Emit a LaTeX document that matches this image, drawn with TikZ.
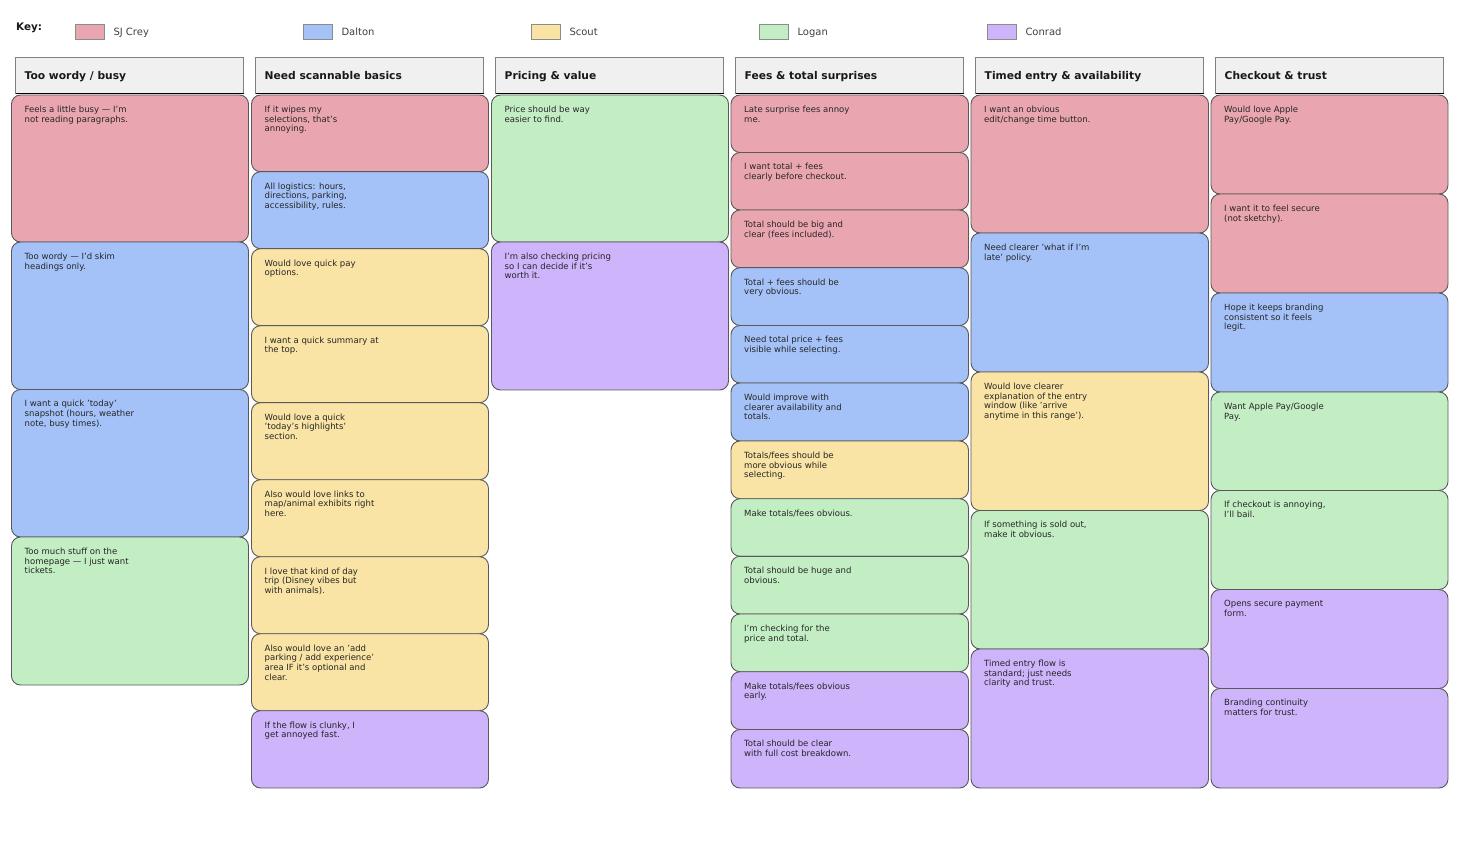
\documentclass[tikz,border=0pt]{standalone}
\usepackage{fontspec}
\setmainfont{DejaVu Sans}
\definecolor{cpink}{HTML}{EAA6B0}
\definecolor{cblue}{HTML}{A4C2F8}
\definecolor{cyel}{HTML}{F9E4A5}
\definecolor{cgrn}{HTML}{C3EEC4}
\definecolor{cpur}{HTML}{CDB4FB}
\definecolor{chead}{HTML}{F0F0F0}
\tikzset{
  cardbox/.style={draw=black!65,line width=0.9pt,rounded corners=9pt},
  cardtext/.style={anchor=north west,inner sep=0pt,align=left,text=black!85,font=\fontsize{8.53}{9.7}\selectfont},
  headbox/.style={draw=black!50,line width=1pt,fill=chead},
  headtext/.style={anchor=base west,inner sep=0pt,text=black!90,font=\fontsize{10.7}{13}\selectfont\bfseries},
  keybox/.style={draw=black!45,line width=1pt},
  keytext/.style={anchor=base west,inner sep=0pt,text=black!75,font=\fontsize{10}{11}\selectfont}
}
% name, x0, y0, x1, y1, colour, text
\newcommand{\cardat}[7]{%
  \path[cardbox,fill=#6] (#2,#3) rectangle (#4,#5);
  \node[cardtext] (#1) at (#2+13,#3+10.7) {#7};
}
\newcommand{\headat}[3]{%
  \path[headbox] (#2,57.5) rectangle (#2+228,94);
  \draw[black,line width=1pt] (#2,94) -- (#2+228,94);
  \node[headtext] (#1) at (#2+9,79.8) {#3};
}
\newcommand{\keyat}[4]{%
  \path[keybox,fill=#3] (#2,24.5) rectangle (#2+29,39.5);
  \node[keytext] (#1) at (#2+38.3,35.5) {#4};
}
\begin{document}
\begin{tikzpicture}[x=1pt,y=-1pt]
\useasboundingbox (0,0) rectangle (1468,842);
\node[anchor=base west,inner sep=0pt,text=black!90,font=\fontsize{10.4}{12}\selectfont\bfseries] (keylabel) at (16,31) {Key:};
\keyat{ka}{75}{cpink}{SJ Crey}
\keyat{kb}{303}{cblue}{Dalton}
\keyat{kc}{531}{cyel}{Scout}
\keyat{kd}{759}{cgrn}{Logan}
\keyat{ke}{987}{cpur}{Conrad}
\headat{ha}{15.5}{Too wordy / busy}
\headat{hb}{255.5}{Need scannable basics}
\headat{hc}{495.5}{Pricing \& value}
\headat{hd}{735.5}{Fees \& total surprises}
\headat{he}{975.5}{Timed entry \& availability}
\headat{hf}{1215.5}{Checkout \& trust}
% column 1
\cardat{a1}{11.5}{95}{248.5}{242}{cpink}{Feels a little busy — I'm\\not reading paragraphs.}
\cardat{a2}{11.5}{242}{248.5}{389.5}{cblue}{Too wordy — I'd skim\\headings only.}
\cardat{a3}{11.5}{389.5}{248.5}{537}{cblue}{I want a quick 'today'\\snapshot (hours, weather\\note, busy times).}
\cardat{a4}{11.5}{537}{248.5}{685}{cgrn}{Too much stuff on the\\homepage — I just want\\tickets.}
% column 2
\cardat{b1}{251.5}{95}{488.5}{171.7}{cpink}{If it wipes my\\selections, that's\\annoying.}
\cardat{b2}{251.5}{171.7}{488.5}{248.7}{cblue}{All logistics: hours,\\directions, parking,\\accessibility, rules.}
\cardat{b3}{251.5}{248.7}{488.5}{325.7}{cyel}{Would love quick pay\\options.}
\cardat{b4}{251.5}{325.7}{488.5}{402.7}{cyel}{I want a quick summary at\\the top.}
\cardat{b5}{251.5}{402.7}{488.5}{479.7}{cyel}{Would love a quick\\'today's highlights'\\section.}
\cardat{b6}{251.5}{479.7}{488.5}{556.7}{cyel}{Also would love links to\\map/animal exhibits right\\here.}
\cardat{b7}{251.5}{556.7}{488.5}{633.7}{cyel}{I love that kind of day\\trip (Disney vibes but\\with animals).}
\cardat{b8}{251.5}{633.7}{488.5}{710.7}{cyel}{Also would love an 'add\\parking / add experience'\\area IF it's optional and\\clear.}
\cardat{b9}{251.5}{710.7}{488.5}{788}{cpur}{If the flow is clunky, I\\get annoyed fast.}
% column 3
\cardat{c1}{491.5}{95}{728.5}{242}{cgrn}{Price should be way\\easier to find.}
\cardat{c2}{491.5}{242}{728.5}{390}{cpur}{I'm also checking pricing\\so I can decide if it's\\worth it.}
% column 4
\cardat{d1}{731}{95}{968.5}{152.5}{cpink}{Late surprise fees annoy\\me.}
\cardat{d2}{731}{152.5}{968.5}{210}{cpink}{I want total + fees\\clearly before checkout.}
\cardat{d3}{731}{210}{968.5}{267.7}{cpink}{Total should be big and\\clear (fees included).}
\cardat{d4}{731}{267.7}{968.5}{325.5}{cblue}{Total + fees should be\\very obvious.}
\cardat{d5}{731}{325.5}{968.5}{383}{cblue}{Need total price + fees\\visible while selecting.}
\cardat{d6}{731}{383}{968.5}{441}{cblue}{Would improve with\\clearer availability and\\totals.}
\cardat{d7}{731}{441}{968.5}{498.7}{cyel}{Totals/fees should be\\more obvious while\\selecting.}
\cardat{d8}{731}{498.7}{968.5}{556.3}{cgrn}{Make totals/fees obvious.}
\cardat{d9}{731}{556.3}{968.5}{614}{cgrn}{Total should be huge and\\obvious.}
\cardat{d10}{731}{614}{968.5}{671.7}{cgrn}{I'm checking for the\\price and total.}
\cardat{d11}{731}{671.7}{968.5}{729.5}{cpur}{Make totals/fees obvious\\early.}
\cardat{d12}{731}{729.5}{968.5}{788}{cpur}{Total should be clear\\with full cost breakdown.}
% column 5
\cardat{e1}{971}{95}{1208.5}{233}{cpink}{I want an obvious\\edit/change time button.}
\cardat{e2}{971}{233}{1208.5}{372}{cblue}{Need clearer 'what if I'm\\late' policy.}
\cardat{e3}{971}{372}{1208.5}{510.5}{cyel}{Would love clearer\\explanation of the entry\\window (like 'arrive\\anytime in this range').}
\cardat{e4}{971}{510.5}{1208.5}{649}{cgrn}{If something is sold out,\\make it obvious.}
\cardat{e5}{971}{649}{1208.5}{788}{cpur}{Timed entry flow is\\standard; just needs\\clarity and trust.}
% column 6
\cardat{f1}{1211}{95}{1448}{194}{cpink}{Would love Apple\\Pay/Google Pay.}
\cardat{f2}{1211}{194}{1448}{293}{cpink}{I want it to feel secure\\(not sketchy).}
\cardat{f3}{1211}{293}{1448}{392}{cblue}{Hope it keeps branding\\consistent so it feels\\legit.}
\cardat{f4}{1211}{392}{1448}{490.5}{cgrn}{Want Apple Pay/Google\\Pay.}
\cardat{f5}{1211}{490.5}{1448}{589.5}{cgrn}{If checkout is annoying,\\I'll bail.}
\cardat{f6}{1211}{589.5}{1448}{688.5}{cpur}{Opens secure payment\\form.}
\cardat{f7}{1211}{688.5}{1448}{788}{cpur}{Branding continuity\\matters for trust.}
\end{tikzpicture}
\end{document}
